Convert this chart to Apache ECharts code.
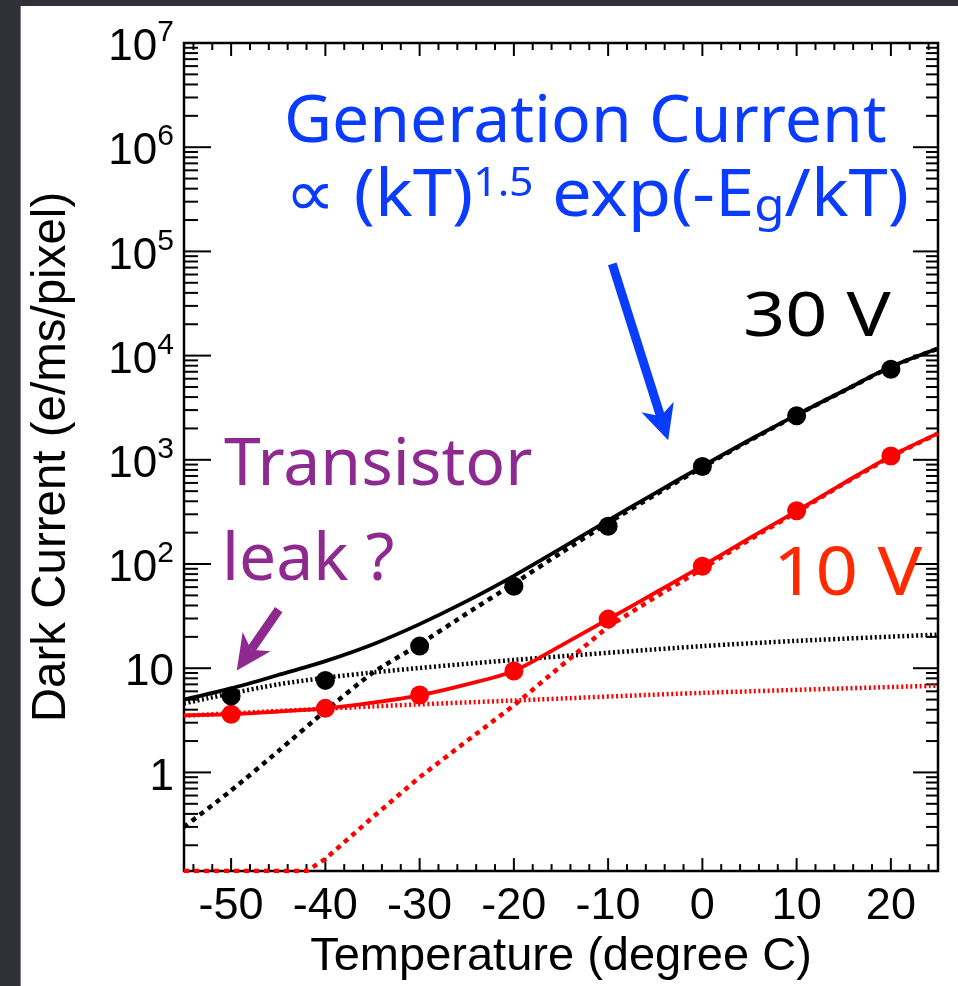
<!DOCTYPE html>
<html>
<head>
<meta charset="utf-8">
<script src="https://cdn.jsdelivr.net/npm/echarts@6/dist/echarts.min.js"></script>
<style>
  html, body { margin: 0; padding: 0; width: 958px; height: 986px; overflow: hidden; background: #303039; }
  #panel { position: absolute; left: 20px; top: 6px; width: 938px; height: 980px; background: #ffffff; border-left: 1px solid #7d7d88; box-sizing: border-box; }
  #chart { position: absolute; left: -1px; top: 0; width: 938px; height: 980px; }
</style>
</head>
<body>
<div id="panel"><div id="chart"></div></div>
<script>
// Measured dark current (e/ms/pixel) at each temperature (degree C)
const tempPoints = [-50, -40, -30, -20, -10, 0, 10, 20];
const dark30V = [5.42, 7.64, 16.3, 61.2, 230, 861, 2650, 7400];
const dark10V = [3.61, 4.12, 5.54, 9.4, 29.6, 95, 324, 1087];

// Fitted model curves, sampled along the temperature axis
const fitTemps = [-55, -50, -45, -40, -35, -30, -25, -20, -15, -10, -5, 0, 5, 10, 15, 20, 25];
const fit30Total = [5.0, 6.4, 8.6, 11.7, 16.9, 26.5, 44, 77, 141, 262, 480, 870, 1550, 2700, 4600, 7800, 11700];
const fit30Gen = [0.30, 0.67, 1.6, 3.9, 9.0, 17.0, 33.5, 65, 128, 248, 462, 850, 1530, 2680, 4580, 7780, 11680];
const fit10Total = [3.53, 3.62, 3.84, 4.12, 4.68, 5.5, 7.0, 9.4, 16.5, 29.5, 53, 96, 177, 322, 596, 1085, 1794];
const gen10Temps = [-55, -42, -40, -35, -30, -25, -20, -15, -10, -5, 0, 5, 10, 15, 20, 25];
const fit10Gen = [0.113, 0.113, 0.148, 0.37, 0.90, 2.0, 4.4, 10.5, 25, 48, 90, 171, 315, 590, 1078, 1787];

// Leak (transistor) component
const leak30Temps = [-55, -45, -35, -20, 0, 10, 25];
const leak30 = [4.6, 7.0, 9.1, 12.0, 16.3, 18.3, 21.0];
const leak10Temps = [-55, -35, -20, 0, 25];
const leak10 = [3.5, 4.3, 4.9, 5.8, 6.8];

// Axes
const xRange = [-55, 25];
const yRange = [0.113, 1e7];
const xMajorTicks = [-50, -40, -30, -20, -10, 0, 10, 20];
const yMajorTicks = [1, 10, 100, 1e3, 1e4, 1e5, 1e6, 1e7];

// Annotation arrows, anchored in data space [temperature, current]
const genArrow = { from: [-9.56, 75900], to: [-3.63, 1537] };
const leakArrow = { from: [-44.95, 36.5], to: [-49.4, 9.53] };

const COLOR_BLUE = '#0a3cff';
const COLOR_PURPLE = '#8e2a8f';
const COLOR_RED = '#ff0000';
const AXIS_FONT = '"Liberation Sans", Arial, Helvetica, sans-serif';
const NOTE_FONT = '"Noto Sans", "DejaVu Sans", sans-serif';

// Tick marks on all four sides: [x, y, isYTick, isMajor]
const tickItems = [];
for (let t = xRange[0] + 1; t < xRange[1]; t += 2) {
  if (t % 10 !== 0) tickItems.push([t, 1, 0, 0]);
}
xMajorTicks.forEach(t => tickItems.push([t, 1, 0, 1]));
yMajorTicks.forEach(v => tickItems.push([xRange[0], v, 1, 1]));
[0.1].concat(yMajorTicks.slice(0, -1)).forEach(dec => {
  for (let m = 2; m <= 9; m++) {
    const v = m * dec;
    if (v > yRange[0] && v < yRange[1]) tickItems.push([xRange[0], v, 1, 0]);
  }
});

const pairs = (xs, ys) => xs.map((x, i) => [x, ys[i]]);

const chart = echarts.init(document.getElementById('chart'), null, { renderer: 'canvas' });

const option = {
  animation: false,
  backgroundColor: 'transparent',
  grid: {
    left: 163.5, right: 20, top: 37, bottom: 112,
    show: true, borderColor: '#000', borderWidth: 2.5, backgroundColor: 'transparent'
  },
  xAxis: {
    type: 'value', min: xRange[0], max: xRange[1], interval: 5,
    axisLine: { show: false }, axisTick: { show: false }, splitLine: { show: false },
    axisLabel: {
      margin: 13, color: '#000', fontSize: 45, fontFamily: AXIS_FONT,
      formatter: v => (v % 10 === 0 ? String(v) : '')
    },
    name: 'Temperature (degree C)', nameLocation: 'middle', nameGap: 56,
    nameTextStyle: { color: '#000', fontSize: 47, fontFamily: AXIS_FONT }
  },
  yAxis: {
    type: 'log', logBase: 10, min: yRange[0], max: yRange[1], splitNumber: 8,
    axisLine: { show: false }, axisTick: { show: false }, splitLine: { show: false },
    axisLabel: {
      margin: 10, color: '#000', fontFamily: AXIS_FONT, verticalAlign: 'middle',
      padding: [10, 0, 0, 0],
      formatter: v => {
        const lg = Math.log10(v);
        const e = Math.round(lg);
        if (Math.abs(lg - e) > 1e-6) return '';
        if (e === 0) return '{b|1}';
        if (e === 1) return '{b|10}';
        return '{b|10}{s|' + e + '}';
      },
      rich: {
        b: { fontSize: 44, lineHeight: 60, fontFamily: AXIS_FONT, color: '#000' },
        s: { fontSize: 30, lineHeight: 30, verticalAlign: 'top', fontFamily: AXIS_FONT, color: '#000' }
      }
    },
    name: 'Dark Current (e/ms/pixel)', nameLocation: 'middle', nameGap: 108,
    nameTextStyle: { color: '#000', fontSize: 47.5, fontFamily: AXIS_FONT }
  },
  series: [
    {
      name: 'ticks', type: 'custom', silent: true, clip: false, z: 1,
      data: tickItems,
      renderItem: (params, api) => {
        const cs = params.coordSys;
        const isY = api.value(2), major = api.value(3);
        const p = api.coord([api.value(0), api.value(1)]);
        const segs = [];
        if (!isY) {
          const len = major ? 13 : 7;
          segs.push([p[0], cs.y + cs.height, p[0], cs.y + cs.height - len]);
          segs.push([p[0], cs.y, p[0], cs.y + len]);
        } else {
          const lenL = major ? 27 : 14, lenR = major ? 25 : 12;
          segs.push([cs.x, p[1], cs.x + lenL, p[1]]);
          segs.push([cs.x + cs.width, p[1], cs.x + cs.width - lenR, p[1]]);
        }
        return {
          type: 'group',
          children: segs.map(s => ({
            type: 'line',
            shape: { x1: s[0], y1: s[1], x2: s[2], y2: s[3] },
            style: { stroke: '#000', lineWidth: 2 }
          }))
        };
      }
    },
    {
      name: 'leak 30 V', type: 'line', symbol: 'none', smooth: 0.3, z: 2,
      data: pairs(leak30Temps, leak30),
      lineStyle: { color: '#000', width: 4.5, type: [2, 2.6], opacity: 1 }
    },
    {
      name: 'leak 10 V', type: 'line', symbol: 'none', smooth: 0.3, z: 2,
      data: pairs(leak10Temps, leak10),
      lineStyle: { color: COLOR_RED, width: 4.5, type: [2, 2.6], opacity: 1 }
    },
    {
      name: 'generation 30 V', type: 'line', symbol: 'none', smooth: 0.2, z: 2,
      data: pairs(fitTemps, fit30Gen),
      lineStyle: { color: '#000', width: 4.5, type: [5, 5], opacity: 1 }
    },
    {
      name: 'generation 10 V', type: 'line', symbol: 'none', smooth: false, z: 2,
      data: pairs(gen10Temps, fit10Gen),
      lineStyle: { color: COLOR_RED, width: 4.5, type: [5, 5], opacity: 1 }
    },
    {
      name: 'total 10 V', type: 'line', symbol: 'none', smooth: 0.3, z: 3,
      data: pairs(fitTemps, fit10Total),
      lineStyle: { color: COLOR_RED, width: 3.8, opacity: 1 }
    },
    {
      name: 'total 30 V', type: 'line', symbol: 'none', smooth: 0.3, z: 3,
      data: pairs(fitTemps, fit30Total),
      lineStyle: { color: '#000', width: 3.8, opacity: 1 }
    },
    {
      name: '10 V', type: 'scatter', symbol: 'circle', symbolSize: 19, z: 4,
      data: pairs(tempPoints, dark10V),
      itemStyle: { color: COLOR_RED, opacity: 1 }
    },
    {
      name: '30 V', type: 'scatter', symbol: 'circle', symbolSize: 19, z: 4,
      data: pairs(tempPoints, dark30V),
      itemStyle: { color: '#000', opacity: 1 }
    }
  ]
};

chart.setOption(option);

// Arrow built from two data-space anchors
function arrow(spec, color) {
  const a = chart.convertToPixel({ xAxisIndex: 0, yAxisIndex: 0 }, spec.from);
  const b = chart.convertToPixel({ xAxisIndex: 0, yAxisIndex: 0 }, spec.to);
  const dx = b[0] - a[0], dy = b[1] - a[1];
  const len = Math.hypot(dx, dy);
  const ux = dx / len, uy = dy / len;
  const px = -uy, py = ux;
  const headLen = 35, half = 17;
  const baseX = b[0] - ux * headLen, baseY = b[1] - uy * headLen;
  const notchX = b[0] - ux * headLen * 0.72, notchY = b[1] - uy * headLen * 0.72;
  return [
    {
      type: 'line', z: 10, silent: true,
      shape: { x1: a[0], y1: a[1], x2: notchX, y2: notchY },
      style: { stroke: color, lineWidth: 9 }
    },
    {
      type: 'polygon', z: 10, silent: true,
      shape: { points: [[b[0], b[1]], [baseX + px * half, baseY + py * half], [notchX, notchY], [baseX - px * half, baseY - py * half]] },
      style: { fill: color }
    }
  ];
}

// Text annotation; stretch widens the glyphs horizontally from the left edge
const note = (x, y, text, size, color, stretch, rich) => ({
  type: 'text', z: 10, silent: true, x: x, y: y, scaleX: stretch || 1,
  style: {
    text: text, fill: color, fontSize: size, fontFamily: NOTE_FONT,
    align: 'left', verticalAlign: 'middle', rich: rich || undefined
  }
});

chart.setOption({
  graphic: [
    note(264, 117, 'Generation Current', 66, COLOR_BLUE),
    note(265, 191.4, '∝ (kT){s|1.5} exp(-E{g|g}/kT)', 66, COLOR_BLUE, 1.07, {
      s: { fontSize: 40, lineHeight: 56, verticalAlign: 'top', fontFamily: NOTE_FONT, fill: COLOR_BLUE, color: COLOR_BLUE },
      g: { fontSize: 46, verticalAlign: 'bottom', fontFamily: NOTE_FONT, fill: COLOR_BLUE, color: COLOR_BLUE }
    }),
    note(723, 312, '30 V', 62, '#000', 1.19),
    note(753, 570, '10 V', 67, '#ff2a00', 1.11),
    note(204, 460, 'Transistor', 66, COLOR_PURPLE),
    note(202, 555, 'leak ?', 66, COLOR_PURPLE)
  ].concat(arrow(genArrow, COLOR_BLUE), arrow(leakArrow, COLOR_PURPLE))
});
</script>
</body>
</html>
